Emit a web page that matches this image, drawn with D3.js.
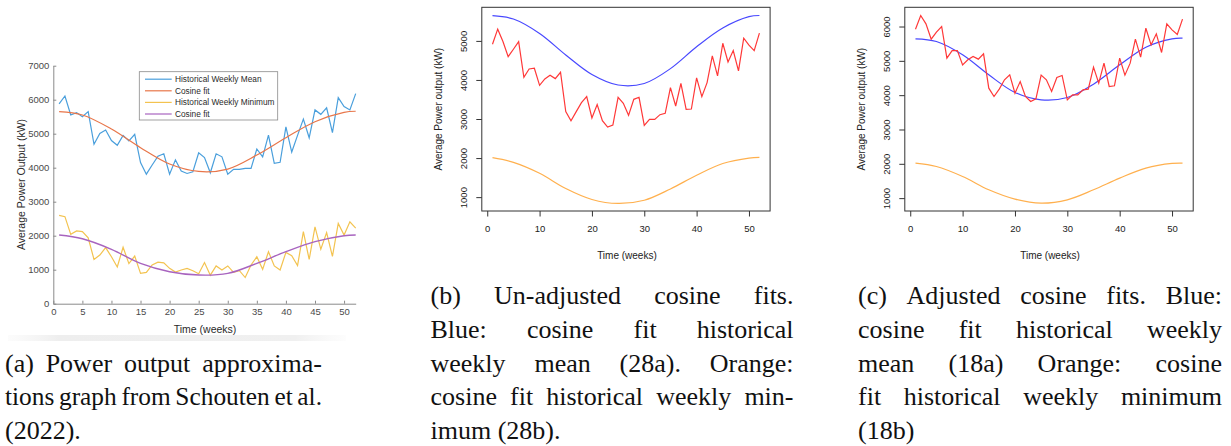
<!DOCTYPE html>
<html><head><meta charset="utf-8">
<script src="https://cdn.jsdelivr.net/npm/d3@7"></script>
<style>body{margin:0;background:#fff;} svg{display:block;} .cap{font-family:"Liberation Serif","Times New Roman",serif;}</style>
</head><body>
<svg id="c" width="1231" height="446"></svg>
<script>
// ---------- DATA ----------
const weeks = d3.range(1, 53);
const fitWeeks = [1, 5, 10, 15, 20, 25, 30, 35, 40, 45, 50, 52];

// Panel (a): Schouten et al. (2022)
const aMean = [5880,6110,5550,5620,5500,5650,4690,5010,5110,4800,4660,4950,4790,4980,4150,3810,4080,4340,4410,3810,4230,3900,3830,3880,4440,4300,3850,4410,4320,3810,3950,3950,3980,3980,4550,4320,4960,4130,4160,5200,4460,4950,5430,4880,5700,5570,5760,5030,6060,5800,5700,6180];
const aMin = [2600,2560,2040,2140,2120,1940,1300,1430,1650,1380,1080,1660,1180,1400,890,920,1140,1220,1200,1040,930,990,1040,970,880,1210,840,1110,990,1110,920,970,770,1140,1380,1010,1530,1110,990,1510,1410,1120,2120,1300,2260,1600,2090,1390,2360,2020,2410,2220];
const aMeanFit = [5650,5549,5137,4588,4108,3890,3960,4372,4882,5353,5627,5660];
const aMinFit = [2020,1910,1600,1186,941,843,892,1186,1529,1824,2000,2020];
const aTicksX = [0,5,10,15,20,25,30,35,40,45,50];
const aTicksY = [0,1000,2000,3000,4000,5000,6000,7000];
const aLegend = ["Historical Weekly Mean", "Cosine fit", "Historical Weekly Minimum", "Cosine fit"];

// Panel (b): un-adjusted
const bMean = [4915,5300,4983,4598,4786,4983,4068,4282,4299,3863,4026,4120,4034,4197,3188,2957,3188,3419,3573,3026,3368,2957,2795,2846,3556,3402,3094,3504,3556,2838,2991,2991,3111,3145,3803,3333,3915,3248,3256,4051,3573,3932,4615,4103,4940,4462,4752,4231,5068,4889,4752,5197];
const bMeanFit = [5645,5560,5190,4640,4140,3870,3910,4290,4850,5330,5620,5650];
const bMinFit = [2010,1890,1610,1220,940,838,920,1210,1560,1860,2000,2017];
const bTicksY = [1000,2000,3000,4000,5000];

// Panel (c): adjusted
const cMean = [5922,6320,6078,5631,5835,6000,5078,5300,5300,4883,5029,5126,5049,5204,4204,3961,4175,4447,4592,4058,4398,3961,3816,3893,4583,4447,4107,4515,4573,3864,4010,4010,4155,4175,4816,4350,4932,4253,4272,5078,4583,4932,5631,5107,5951,5466,5786,5243,6078,5903,5767,6214];
const cMeanFit = [5641,5563,5175,4592,4078,3864,3932,4320,4883,5398,5641,5660];
const cMinFit = [2019,1922,1631,1243,971,854,951,1243,1583,1874,2010,2019];
const cTicksY = [1000,2000,3000,4000,5000,6000];

const rTicksX = [0,10,20,30,40,50];

const captionA = ["(a) Power output approxima-", "tions graph from Schouten et al.", "(2022)."];
const captionB = ["(b) Un-adjusted cosine fits.", "Blue: cosine fit historical", "weekly mean (28a). Orange:", "cosine fit historical weekly min-", "imum (28b)."];
const captionC = ["(c) Adjusted cosine fits. Blue:", "cosine fit historical weekly", "mean (18a) Orange: cosine", "fit historical weekly minimum", "(18b)"];

// ---------- DRAW ----------
const svg = d3.select("#c");
const SANS = "'Liberation Sans', Arial, Helvetica, sans-serif";

// ---- Panel (a): MATLAB style ----
(function(){
  const g = svg.append("g");
  const grad = svg.append("defs").append("linearGradient").attr("id","band").attr("x1","0").attr("x2","1");
  grad.append("stop").attr("offset","0").attr("stop-color","#f4f4f4").attr("stop-opacity",0.3);
  grad.append("stop").attr("offset","0.15").attr("stop-color","#eeeeee");
  grad.append("stop").attr("offset","0.85").attr("stop-color","#f0f0f0");
  grad.append("stop").attr("offset","1").attr("stop-color","#f4f4f4").attr("stop-opacity",0.2);
  g.append("rect").attr("x",8).attr("y",335).attr("width",338).attr("height",6).attr("fill","url(#band)");

  const x = d3.scaleLinear().domain([0,52]).range([53.3,355.7]);
  const y = d3.scaleLinear().domain([0,7000]).range([303.7,65.7]);
  const axCol = "#8a8a8a", txtCol = "#4a4a4a";

  const ya = g.append("g").attr("transform","translate(53.3,0)")
    .call(d3.axisLeft(y).tickValues(aTicksY).tickFormat(d3.format("d")).tickSizeInner(-3).tickSizeOuter(0).tickPadding(4));
  const xa = g.append("g").attr("transform","translate(0,303.7)")
    .call(d3.axisBottom(x).tickValues(aTicksX).tickFormat(d3.format("d")).tickSizeInner(-3).tickSizeOuter(0).tickPadding(5));
  [ya, xa].forEach(a => {
    a.select(".domain").attr("stroke",axCol).attr("stroke-width",1);
    a.selectAll(".tick line").attr("stroke",axCol);
    a.selectAll(".tick text").attr("fill",txtCol).attr("font-family",SANS).attr("font-size",9.5);
  });

  const line = (xs, curve) => d3.line().x((d,i)=>x(xs[i])).y(d=>y(d)).curve(curve);
  g.append("path").datum(aMean).attr("d", line(weeks, d3.curveLinear)).attr("fill","none").attr("stroke","#4a9fdc").attr("stroke-width",1.2);
  g.append("path").datum(aMeanFit).attr("d", line(fitWeeks, d3.curveCatmullRom)).attr("fill","none").attr("stroke","#e8764a").attr("stroke-width",1.2);
  g.append("path").datum(aMin).attr("d", line(weeks, d3.curveLinear)).attr("fill","none").attr("stroke","#f3c350").attr("stroke-width",1.2);
  g.append("path").datum(aMinFit).attr("d", line(fitWeeks, d3.curveCatmullRom)).attr("fill","none").attr("stroke","#a864bf").attr("stroke-width",1.4);

  g.append("text").attr("x",205).attr("y",333).attr("text-anchor","middle").attr("font-family",SANS).attr("font-size",10.5).attr("fill","#2a2a2a").text("Time (weeks)");
  g.append("text").attr("transform","translate(21.7,184.5) rotate(-90)").attr("dy","0.35em").attr("text-anchor","middle").attr("font-family",SANS).attr("font-size",10.5).attr("fill","#2a2a2a").text("Average Power Output (kW)");

  const lg = g.append("g");
  lg.append("rect").attr("x",139.3).attr("y",71.7).attr("width",138.4).attr("height",48.3).attr("fill","#fff").attr("stroke","#8a8a8a").attr("stroke-width",0.8);
  const lc = ["#4a9fdc","#e8764a","#f3c350","#a864bf"];
  const ly = [79.2, 90.8, 102.4, 114.0];
  aLegend.forEach((t,i)=>{
    lg.append("line").attr("x1",145).attr("x2",171.7).attr("y1",ly[i]).attr("y2",ly[i]).attr("stroke",lc[i]).attr("stroke-width",1.2);
    lg.append("text").attr("x",175).attr("y",ly[i]).attr("dy","0.35em").attr("font-family",SANS).attr("font-size",8.3).attr("fill","#2a2a2a").text(t);
  });
})();

// ---- R style panels ----
function rPanel(opt){
  const g = svg.append("g");
  const top = 7.3, bottom = 211;
  const x = d3.scaleLinear().domain([-1.04,54.04]).range([opt.left,opt.right]);
  const y = d3.scaleLinear().domain(opt.ydom).range([bottom,top]);
  const line = (xs, curve) => d3.line().x((d,i)=>x(xs[i])).y(d=>y(d)).curve(curve);
  g.append("path").datum(opt.minFit).attr("d", line(fitWeeks, d3.curveCatmullRom)).attr("fill","none").attr("stroke","#ffb04e").attr("stroke-width",1.2);
  g.append("path").datum(opt.meanFit).attr("d", line(fitWeeks, d3.curveCatmullRom)).attr("fill","none").attr("stroke","#4848ff").attr("stroke-width",1.2);
  g.append("path").datum(opt.mean).attr("d", line(weeks, d3.curveLinear)).attr("fill","none").attr("stroke","#ff3838").attr("stroke-width",1.2);

  g.append("rect").attr("x",opt.left).attr("y",top).attr("width",opt.right-opt.left).attr("height",bottom-top).attr("fill","none").attr("stroke","#333").attr("stroke-width",1);

  const xa = g.append("g").attr("transform",`translate(0,${bottom})`)
    .call(d3.axisBottom(x).tickValues(rTicksX).tickFormat(d3.format("d")).tickSizeInner(5.5).tickSizeOuter(0).tickPadding(9));
  const ya = g.append("g").attr("transform",`translate(${opt.left},0)`)
    .call(d3.axisLeft(y).tickValues(opt.yticks).tickFormat(d3.format("d")).tickSizeInner(5.5).tickSizeOuter(0).tickPadding(0));
  [xa, ya].forEach(a=>{
    a.select(".domain").remove();
    a.selectAll(".tick line").attr("stroke","#333");
    a.selectAll(".tick text").attr("fill","#222").attr("font-family",SANS).attr("font-size",9.5);
  });
  ya.selectAll(".tick text").attr("x",null).attr("dy","0.35em").attr("text-anchor","middle")
    .attr("transform","translate(-18,0) rotate(-90)");

  g.append("text").attr("x",(opt.left+opt.right)/2 + 1).attr("y",258.7).attr("text-anchor","middle").attr("font-family",SANS).attr("font-size",10).attr("fill","#222").text("Time (weeks)");
  g.append("text").attr("transform",`translate(${opt.left-43},${(top+bottom)/2}) rotate(-90)`).attr("dy","0.35em").attr("text-anchor","middle").attr("font-family",SANS).attr("font-size",10).attr("fill","#222").text("Average Power output (kW)");
}
rPanel({left:481.8, right:770.1, ydom:[645,5860], yticks:bTicksY, mean:bMean, meanFit:bMeanFit, minFit:bMinFit});
rPanel({left:904.8, right:1193.2, ydom:[625,6560], yticks:cTicksY, mean:cMean, meanFit:cMeanFit, minFit:cMinFit});

// ---- captions (justified) ----
function caption(lines, x0, x1, baselines, fs){
  const g = svg.append("g").attr("fill","#111");
  const mk = (sel) => sel.append("text").attr("class","cap").style("font-family",'"Liberation Serif","Times New Roman",serif').style("font-size", fs+"px");
  lines.forEach((ln,i)=>{
    const yb = baselines[i];
    const words = ln.split(" ");
    const ts = words.map(w => mk(g).attr("y",yb).text(w));
    const ws = ts.map(t => t.node().getComputedTextLength());
    const sum = d3.sum(ws);
    const W = x1 - x0;
    const nat = fs*0.25;
    let gap, s = 1;
    if (i === lines.length-1){ gap = nat; }
    else {
      gap = (W - sum)/(words.length-1);
      const minGap = fs*0.18;
      if (gap < minGap){ s = (W - minGap*(words.length-1))/sum; gap = minGap; }
    }
    let cx = x0;
    ts.forEach((t,k)=>{
      t.attr("x",cx);
      if (s !== 1) t.attr("textLength", ws[k]*s).attr("lengthAdjust","spacingAndGlyphs");
      cx += ws[k]*s + gap;
    });
  });
}
caption(captionA, 5, 322, [371.5, 405, 438.5], 26);
caption(captionB, 430.5, 793.5, [304, 338, 371.5, 405, 438.5], 26);
caption(captionC, 858, 1222, [304, 338, 371.5, 405, 438.5], 26);
</script>
</body></html>
